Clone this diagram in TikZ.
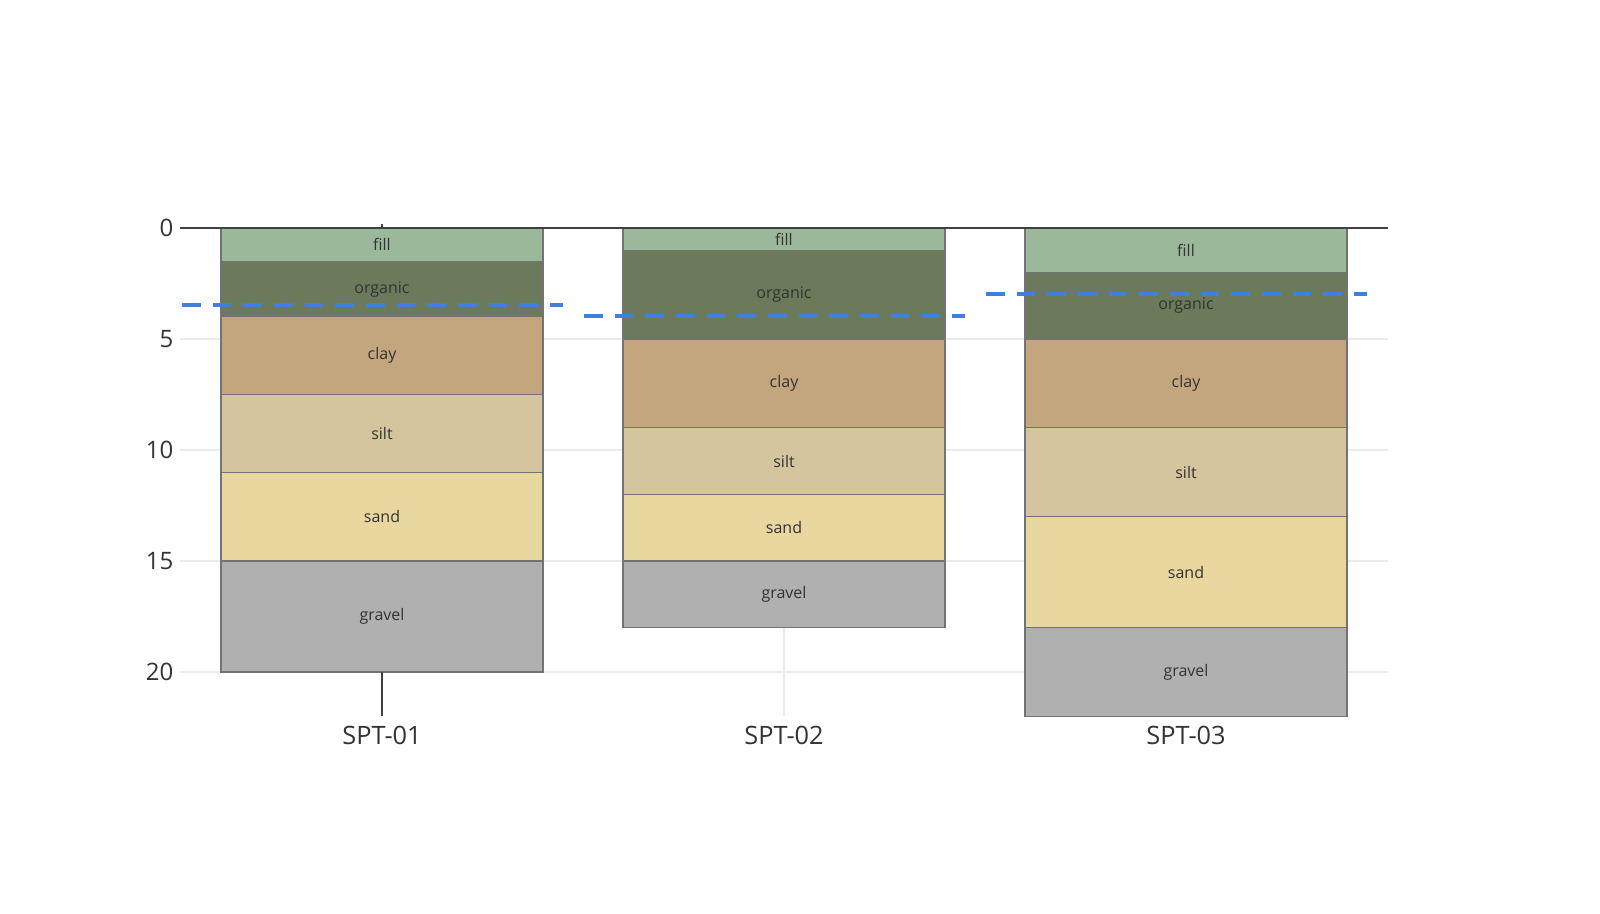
\documentclass[tikz,border=0pt]{standalone}
\usepackage{fontspec}
\setmainfont{Open Sans}
\begin{document}
\begin{tikzpicture}[x=0.75pt,y=-0.75pt,
  lay/.style={draw=black!55,line width=0.8pt},
  grid/.style={draw=black!8,line width=1pt},
  wl/.style={draw={rgb,255:red,63;green,127;blue,224},line width=3pt,dash pattern=on 14pt off 9pt},
  tl/.style={font=\fontsize{18}{20}\selectfont,text=black!80,anchor=east},
  cl/.style={font=\fontsize{19}{22}\selectfont,text=black!80},
  ll/.style={font=\fontsize{12}{14}\selectfont,text=black!80}]
\definecolor{cfill}{HTML}{9CB89A}
\definecolor{corg}{HTML}{6A7A5A}
\definecolor{cclay}{HTML}{C4A67E}
\definecolor{csilt}{HTML}{D5C59E}
\definecolor{csand}{HTML}{E8D79E}
\definecolor{cgrav}{HTML}{B0B0B0}
\useasboundingbox (0,0) rectangle (1600,914);
\fill[white] (0,0) rectangle (1600,914);
% grid
\foreach \v in {5,10,15,20} \draw[grid] (180,228+22.2*\v) -- (1388,228+22.2*\v);
\foreach \x in {382,784,1186} \draw[grid] (\x,228) -- (\x,716);
% layers
\def\col#1#2{%
  \foreach \a/\b/\c/\t in {#2} {%
    \path[lay,fill=\c] (#1-161,228+22.2*\a) rectangle (#1+161,228+22.2*\b);
    \node[ll] at (#1,228+22.2*\a/2+22.2*\b/2) {\t};}}
\col{382}{0/1.5/cfill/fill,1.5/4/corg/organic,4/7.5/cclay/clay,7.5/11/csilt/silt,11/15/csand/sand,15/20/cgrav/gravel}
\col{784}{0/1/cfill/fill,1/5/corg/organic,5/9/cclay/clay,9/12/csilt/silt,12/15/csand/sand,15/18/cgrav/gravel}
\col{1186}{0/2/cfill/fill,2/5/corg/organic,5/9/cclay/clay,9/13/csilt/silt,13/18/csand/sand,18/22/cgrav/gravel}
% axis
\draw[black!75,line width=1.5pt] (180,228) -- (1388,228);
\draw[black!75,line width=1.5pt] (382,672) -- (382,716);
\draw[black!75,line width=1pt] (382,224) -- (382,228);
% water levels
\draw[wl] (182,305) -- (563,305);
\draw[wl] (584,316) -- (965,316);
\draw[wl] (986,294) -- (1367,294);
% tick labels
\foreach \v in {0,5,10,15,20} \node[tl] at (178,228+22.2*\v) {\v};
\node[cl] (a) at (382,735) {SPT-01};
\node[cl] (b) at (784,735) {SPT-02};
\node[cl] (c) at (1186,735) {SPT-03};
\end{tikzpicture}
\end{document}
